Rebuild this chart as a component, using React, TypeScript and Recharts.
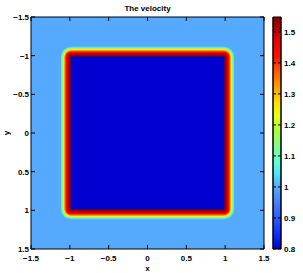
import { ComposedChart, XAxis, YAxis, ReferenceArea, Label } from 'recharts'

const xTicks = [-1.5, -1, -0.5, 0, 0.5, 1, 1.5]
const yTicks = [-1.5, -1, -0.5, 0, 0.5, 1, 1.5]
const cTicks = [0.8, 0.9, 1, 1.1, 1.2, 1.3, 1.4, 1.5]
const cMin = 0.8
const cMax = 1.548

// velocity outside the square
const outerValue = 1.0
// rounded squares, drawn from the outside in: half width, corner radius, velocity
const halfWidths = [1.115, 1.1, 1.085, 1.07, 1.055, 1.035, 1.012, 0.99]
const cornerRadii = [0.13, 0.115, 0.1, 0.085, 0.07, 0.05, 0.03, 0.02]
const bandValues = [1.05, 1.15, 1.25, 1.35, 1.45, 1.5, 1.54, 0.8]

// colormap stops (value -> colour)
const stopValues = [0.8, 0.85, 0.92, 1.0, 1.04, 1.08, 1.13, 1.18, 1.23, 1.27, 1.32, 1.37, 1.42, 1.48, 1.548]
const stopColors = ['#0000d0', '#1030ff', '#3a6aff', '#55aaff', '#50e0ff', '#60ffd8', '#80ff90', '#a8ff40',
  '#e8ff10', '#ffe000', '#ffa000', '#ff6000', '#ff1000', '#e80000', '#800000']

const font = { fontFamily: 'Liberation Sans, Arial, sans-serif', fontSize: 8, fontWeight: 700, fill: '#000' }

const bandData = halfWidths.map((h, i) => ({ h, v: bandValues[i] }))
const barData = cTicks.map((v) => ({ p: 0.5, v }))

function hex(c: string) {
  return [1, 3, 5].map((i) => parseInt(c.slice(i, i + 2), 16))
}

function colour(v: number) {
  if (v <= stopValues[0]) return stopColors[0]
  for (let i = 1; i < stopValues.length; i++) {
    if (v <= stopValues[i]) {
      const t = (v - stopValues[i - 1]) / (stopValues[i] - stopValues[i - 1])
      const a = hex(stopColors[i - 1])
      const b = hex(stopColors[i])
      const m = a.map((x, k) => Math.round(x + (b[k] - x) * t))
      return `rgb(${m[0]},${m[1]},${m[2]})`
    }
  }
  return stopColors[stopColors.length - 1]
}

const fmt = (v: number) => String(v).replace('-', '\u2212')

export default function App() {
  return (
    <div style={{ position: 'absolute', left: 0, top: 0, width: 303, height: 273, background: '#fff' }}>
      <svg width={0} height={0} style={{ position: 'absolute' }}>
        <defs>
          <linearGradient id="cbar" x1="0" y1="1" x2="0" y2="0">
            {stopValues.map((v, i) => (
              <stop key={i} offset={(v - cMin) / (cMax - cMin)} stopColor={stopColors[i]} />
            ))}
          </linearGradient>
        </defs>
      </svg>
      <div style={{ position: 'absolute', left: 0, top: 0 }}>
        <ComposedChart width={270} height={273} data={bandData} margin={{ top: 16, right: 5, bottom: 0, left: 6 }}>
          <XAxis
            dataKey="h" type="number" domain={[-1.5, 1.5]} ticks={xTicks} allowDataOverflow
            height={24} tickSize={-4} tickMargin={10} tickFormatter={fmt}
            tick={font} stroke="#000" interval={0}
          >
            <Label value="x" position="insideBottom" offset={2} style={font} />
          </XAxis>
          <XAxis
            xAxisId="top" orientation="top" dataKey="h" type="number" domain={[-1.5, 1.5]} ticks={xTicks}
            allowDataOverflow height={1} tickSize={-4} tickFormatter={() => ''} stroke="#000" interval={0}
          >
            <Label value="The velocity" position="top" offset={5} style={font} />
          </XAxis>
          <YAxis
            dataKey="h" type="number" domain={[-1.5, 1.5]} ticks={yTicks} reversed allowDataOverflow
            width={25} tickSize={-4} tickMargin={6} tickFormatter={fmt}
            tick={font} stroke="#000" interval={0}
          >
            <Label value="y" angle={-90} position="insideLeft" offset={0} style={{ ...font, textAnchor: 'middle' }} />
          </YAxis>
          <YAxis
            yAxisId="right" orientation="right" dataKey="h" type="number" domain={[-1.5, 1.5]} ticks={yTicks}
            reversed allowDataOverflow width={1} tickSize={-4} tickFormatter={() => ''} stroke="#000" interval={0}
          />
          <ReferenceArea x1={-1.5} x2={1.5} y1={-1.5} y2={1.5} fill={colour(outerValue)} fillOpacity={1} stroke="none" />
          {bandData.map((b, i) => (
            <ReferenceArea
              key={i}
              x1={-b.h} x2={b.h} y1={-b.h} y2={b.h}
              fill={colour(b.v)}
              fillOpacity={1}
              stroke="none"
              shape={(p: any) => {
                const r = (cornerRadii[i] / (2 * b.h)) * Math.abs(p.width)
                return (
                  <rect
                    x={Math.min(p.x, p.x + p.width)} y={Math.min(p.y, p.y + p.height)}
                    width={Math.abs(p.width)} height={Math.abs(p.height)}
                    rx={r} ry={r} fill={colour(b.v)}
                  />
                )
              }}
            />
          ))}
        </ComposedChart>
      </div>
      <div style={{ position: 'absolute', left: 0, top: 0 }}>
        <ComposedChart width={303} height={273} data={barData} margin={{ top: 17, right: 2, bottom: 24, left: 272 }}>
          <XAxis dataKey="p" type="number" domain={[0, 1]} hide allowDataOverflow />
          <YAxis
            dataKey="v" type="number" domain={[cMin, cMax]} ticks={cTicks} allowDataOverflow
            width={1} tickSize={-3} tickFormatter={() => ''} stroke="#000" interval={0}
          />
          <YAxis
            yAxisId="c" orientation="right" dataKey="v" type="number" domain={[cMin, cMax]} ticks={cTicks}
            allowDataOverflow width={20} tickSize={-3} tickMargin={6} tick={{ ...font, textAnchor: 'start' }}
            stroke="#000" interval={0}
          />
          <ReferenceArea x1={0} x2={1} y1={cMin} y2={cMax} fill="url(#cbar)" fillOpacity={1} stroke="#000" />
        </ComposedChart>
      </div>
    </div>
  )
}
